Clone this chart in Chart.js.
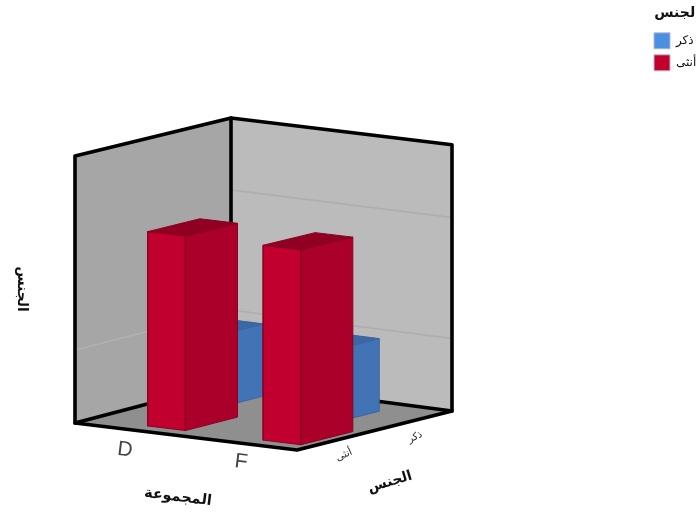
<!DOCTYPE html>
<html lang="ar">
<head>
<meta charset="utf-8">
<title>الجنس حسب المجموعة</title>
<style>
  html, body { margin: 0; padding: 0; background: #ffffff; }
  #wrap { position: relative; width: 696px; height: 512px; overflow: hidden; }
</style>
<script src="https://cdn.jsdelivr.net/npm/chart.js@4/dist/chart.umd.min.js"></script>
</head>
<body>
<div id="wrap"><canvas id="chart" width="696" height="512"></canvas></div>
<script>
// Chart values
const groups = ['D', 'F'];
const genders = ['ذكر', 'أنثى'];
const maleMeans = [1, 1];
const femaleMeans = [2, 2];
const rightWallTicks = [1, 2];
const leftWallTicks = [1];
const legendTitle = 'الجنس';
const groupAxisTitle = 'المجموعة';
const genderAxisTitle = 'الجنس';
const valueAxisTitle = 'الجنس';

// Oblique projection of the 3D box: u runs along the group axis, v along the gender axis
const corner = { left: [75, 423], front: [297, 450], back: [231, 382], right: [452, 411] };
const unitHeight = { left: 121.4, front: 122, back: 120, right: 121 };
const valueFloor = 0.4;
const valueCeil = 2.6;

function mix(a, b, c, d, u, v) {
  return (1 - u) * (1 - v) * a + u * (1 - v) * b + (1 - u) * v * c + u * v * d;
}
function project(u, v, value) {
  const x = mix(corner.left[0], corner.front[0], corner.back[0], corner.right[0], u, v);
  const floorY = mix(corner.left[1], corner.front[1], corner.back[1], corner.right[1], u, v);
  const unit = mix(unitHeight.left, unitHeight.front, unitHeight.back, unitHeight.right, u, v);
  return { x, y: floorY - (value - valueFloor) * unit };
}

const layers = [];
function polygon(points, fillColor, stroke, width) {
  layers.push({
    type: 'line',
    data: points.concat([points[0]]),
    backgroundColor: fillColor,
    borderColor: stroke || fillColor,
    borderWidth: width === undefined ? 1 : width,
    fill: 'shape'
  });
}
function polyline(points, stroke, width) {
  layers.push({
    type: 'line',
    data: points,
    borderColor: stroke,
    borderWidth: width,
    fill: false
  });
}

// Box walls and floor
polygon([project(0, 0, valueFloor), project(0, 1, valueFloor), project(0, 1, valueCeil), project(0, 0, valueCeil)], '#a6a6a6', '#a6a6a6', 0);
polygon([project(0, 1, valueFloor), project(1, 1, valueFloor), project(1, 1, valueCeil), project(0, 1, valueCeil)], '#bbbbbb', '#bbbbbb', 0);
polygon([project(0, 0, valueFloor), project(1, 0, valueFloor), project(1, 1, valueFloor), project(0, 1, valueFloor)], '#8f8f8f', '#8f8f8f', 0);

// Value gridlines on the two walls
leftWallTicks.forEach(tick => polyline([project(0, 0, tick), project(0, 1, tick)], '#b3b3b3', 1.2));
rightWallTicks.forEach(tick => polyline([project(0, 1, tick), project(1, 1, tick)], '#adadad', 1.5));

// Box frame
const frameWidth = 3.6;
polyline([project(0, 0, valueFloor), project(0, 0, valueCeil), project(0, 1, valueCeil), project(1, 1, valueCeil), project(1, 1, valueFloor), project(1, 0, valueFloor), project(0, 0, valueFloor)], '#000000', frameWidth);
polyline([project(0, 1, valueCeil), project(0, 1, valueFloor), project(1, 1, valueFloor)], '#000000', frameWidth);
polyline([project(0, 0, valueFloor), project(0, 1, valueFloor)], '#000000', frameWidth);

// One cuboid per group and gender
const barWidth = 0.17;
const barDepth = 0.335;
function cuboid(uMid, vMid, value, colors) {
  const u0 = uMid - barWidth / 2, u1 = uMid + barWidth / 2;
  const v0 = vMid - barDepth / 2, v1 = vMid + barDepth / 2;
  polygon([project(u0, v0, valueFloor), project(u1, v0, valueFloor), project(u1, v0, value), project(u0, v0, value)], colors.front, colors.edge);
  polygon([project(u1, v0, valueFloor), project(u1, v1, valueFloor), project(u1, v1, value), project(u1, v0, value)], colors.side, colors.edge);
  polygon([project(u0, v0, value), project(u1, v0, value), project(u1, v1, value), project(u0, v1, value)], colors.top, colors.edge);
}
const maleColors = { front: '#4a90e2', side: '#4273b5', top: '#3b67a3', edge: '#3a659f' };
const femaleColors = { front: '#c2002f', side: '#aa0029', top: '#8f0023', edge: '#8c0022' };
const maleSlots = [0.175, 0.70];
const femaleSlots = [0.3425, 0.863];
maleMeans.forEach((value, i) => cuboid(maleSlots[i], 0.67, value, maleColors));
femaleMeans.forEach((value, i) => cuboid(femaleSlots[i], 0.267, value, femaleColors));

// Earlier layers sit underneath later ones
layers.forEach((layer, i) => { layer.order = layers.length - i; });

const arabicFont = '"Liberation Sans", "DejaVu Sans", sans-serif';

const captions = [
  { text: groups[0], x: 125, y: 450, angle: 7, font: '21px "Liberation Sans", sans-serif', color: '#444444' },
  { text: groups[1], x: 241, y: 462, angle: 7, font: '21px "Liberation Sans", sans-serif', color: '#444444' },
  { text: genders[1], x: 344, y: 455, angle: -24, font: '10px ' + arabicFont, color: '#222222' },
  { text: genders[0], x: 415, y: 437, angle: -24, font: '10px ' + arabicFont, color: '#222222' },
  { text: groupAxisTitle, x: 178, y: 497, angle: 7, font: 'bold 14.5px ' + arabicFont, color: '#111111' },
  { text: genderAxisTitle, x: 390, y: 482, angle: -17, font: 'bold 14px ' + arabicFont, color: '#111111' },
  { text: valueAxisTitle, x: 22, y: 289, angle: 90, font: 'bold 14px ' + arabicFont, color: '#111111' }
];

const captionPlugin = {
  id: 'captions',
  afterLayout(chart) {
    // Pin the legend to the upper right corner of the canvas
    const legend = chart.legend;
    legend.left = 648;
    legend.right = legend.left + legend.width;
    legend.top = -1;
    legend.bottom = legend.top + legend.height;
  },
  afterDraw(chart) {
    const ctx = chart.ctx;
    captions.forEach(c => {
      ctx.save();
      ctx.translate(c.x, c.y);
      ctx.rotate(c.angle * Math.PI / 180);
      ctx.font = c.font;
      ctx.fillStyle = c.color;
      ctx.textAlign = 'center';
      ctx.textBaseline = 'middle';
      ctx.fillText(c.text, 0, 0);
      ctx.restore();
    });
  }
};

new Chart(document.getElementById('chart'), {
  type: 'line',
  data: { datasets: layers },
  plugins: [captionPlugin],
  options: {
    responsive: false,
    animation: false,
    layout: { padding: 0 },
    elements: {
      point: { radius: 0, hoverRadius: 0 },
      line: { tension: 0, borderJoinStyle: 'round', borderCapStyle: 'round' }
    },
    datasets: { line: { clip: false } },
    scales: {
      x: { type: 'linear', min: 0, max: 696, display: false },
      y: { type: 'linear', min: 0, max: 512, reverse: true, display: false }
    },
    plugins: {
      tooltip: { enabled: false },
      legend: {
        position: 'chartArea',
        align: 'start',
        title: {
          display: true,
          text: legendTitle,
          position: 'center',
          color: '#111111',
          font: { family: arabicFont, size: 14, weight: 'bold' },
          padding: { top: 7, bottom: 4 }
        },
        labels: {
          boxWidth: 16,
          boxHeight: 16,
          padding: 6,
          color: '#222222',
          font: { family: arabicFont, size: 12 },
          generateLabels: () => genders.map((name, i) => ({
            text: name,
            fillStyle: [maleColors, femaleColors][i].front,
            strokeStyle: '#b8b8c8',
            lineWidth: 1,
            datasetIndex: i
          }))
        }
      }
    }
  }
});
</script>
</body>
</html>
